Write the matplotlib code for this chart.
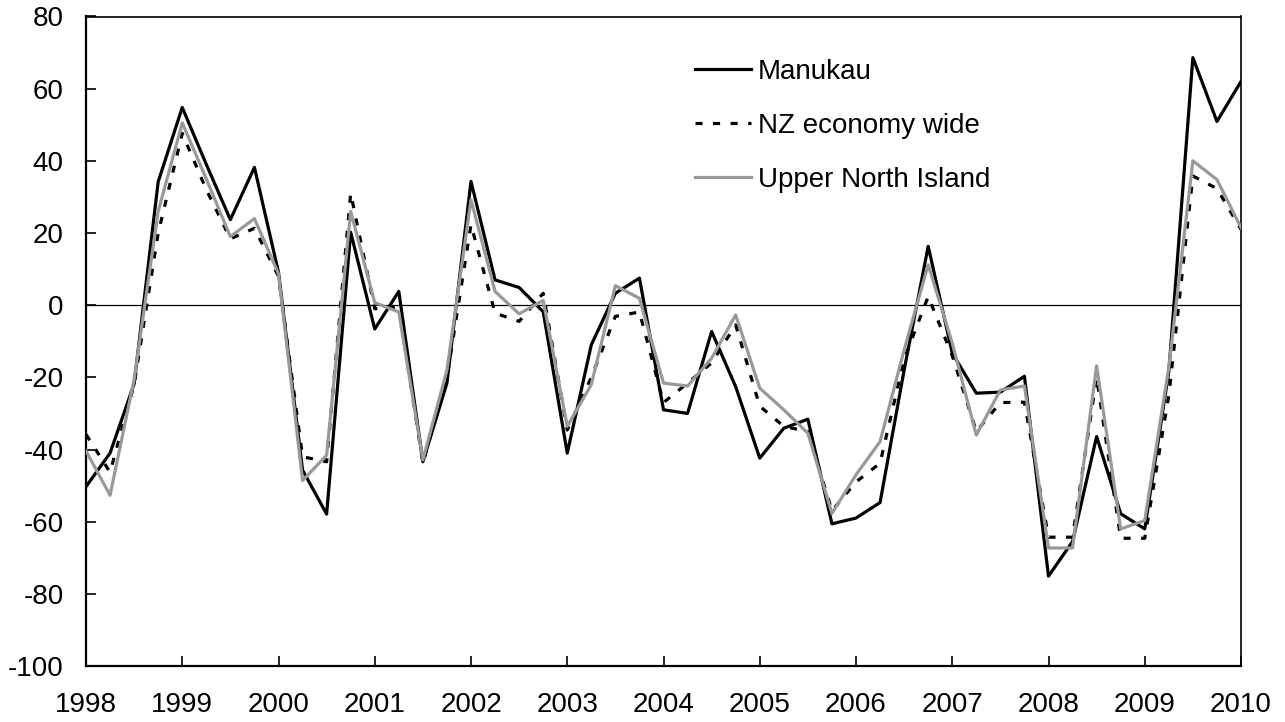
import numpy as np
import matplotlib
matplotlib.use("Agg")
import matplotlib.pyplot as plt

plt.rcParams['font.family'] = ['Liberation Sans', 'DejaVu Sans']

# Quarterly observations, 1998Q1 .. 2010Q1
quarters = [f"{y}Q{q}" for y in range(1998, 2011) for q in range(1, 5)][:49]
x = np.array([int(s[:4]) + (int(s[-1]) - 1) / 4 for s in quarters])

manukau = [-50.3, -41, -21.8, 34.2, 54.8, 39, 23.7, 38.2, 9.1, -45.7, -57.9, 20.2,
           -6.6, 3.8, -43.4, -21.6, 34.3, 7.0, 4.9, -1.8, -41, -11, 3.3, 7.5,
           -29, -30, -7.3, -22.6, -42.4, -34.1, -31.6, -60.6, -59, -54.7, -18, 16.3,
           -13.3, -24.4, -24.1, -19.7, -75.1, -65.5, -36.4, -57.8, -62, -18.4, 68.6, 50.9,
           62]
nz_economy = [-35.8, -46.3, -22, 20, 47.6, 32, 18.4, 21.3, 8, -42, -43.4, 31,
              -1, -0.5, -43.8, -20, 22.3, -2.2, -4.5, 3.3, -34.6, -20, -3.1, -1.9,
              -27, -21.6, -16, -5.5, -28, -33.6, -35, -57, -49, -43.8, -15, 2.4,
              -14, -35, -27, -26.9, -64.3, -64.3, -20, -64.6, -64.6, -25, 35.8, 32.3,
              21]
upper_ni = [-40.4, -52.7, -20.6, 26, 50.5, 35, 19, 24, 8.7, -48.6, -41.6, 26,
            0.7, -1.9, -42.9, -18, 29.2, 3.8, -2.4, 1.3, -33.6, -22, 5.4, 1.9,
            -21.6, -22.4, -14.7, -2.7, -23, -29, -35.5, -57.7, -47, -37.8, -12.4, 11.2,
            -10.5, -36, -23.5, -22.4, -67.3, -67.3, -16.8, -62, -59.7, -17.2, 40, 34.8,
            21.5]

year_ticks = list(range(1998, 2011))
y_ticks = list(range(-100, 81, 20))

W, H = 1285, 722
fig = plt.figure(figsize=(W / 100, H / 100), dpi=100)
ax = fig.add_axes([86 / W, 1 - 666 / H, (1241 - 86) / W, (666 - 16.5) / H])

ax.axhline(0, color='black', lw=0.9, zorder=1)
ax.plot(x, manukau, color='black', lw=2.3, label='Manukau', zorder=3)
ax.plot(x, nz_economy, color='black', lw=2.3, linestyle=(0, (2.2, 3.3)),
        label='NZ economy wide', zorder=2)
ax.plot(x, upper_ni, color='#999999', lw=2.3, label='Upper North Island', zorder=4)

ax.set_xlim(1998, 2010)
ax.set_ylim(-100, 80)
ax.set_xticks(year_ticks)
ax.set_xticklabels([str(y) for y in year_ticks])
ax.set_yticks(y_ticks)
ax.set_yticklabels([str(v) for v in y_ticks])
ax.tick_params(axis='both', direction='in', length=7, width=1.2, labelsize=20,
               colors='black')
ax.tick_params(axis='x', pad=19)
ax.tick_params(axis='y', pad=16)

for side in ['left', 'bottom']:
    ax.spines[side].set_linewidth(1.6)
for side in ['top', 'right']:
    ax.spines[side].set_linewidth(1.2)

handles, labels = ax.get_legend_handles_labels()
leg = fig.legend(handles, labels,
                 loc='upper left', bbox_to_anchor=(695 / W, 1 - 59 / H),
                 frameon=False, fontsize=20, handlelength=2.0, handletextpad=0.25,
                 labelspacing=1.0, borderpad=0, borderaxespad=0)

fig.savefig('out.png', dpi=100)
